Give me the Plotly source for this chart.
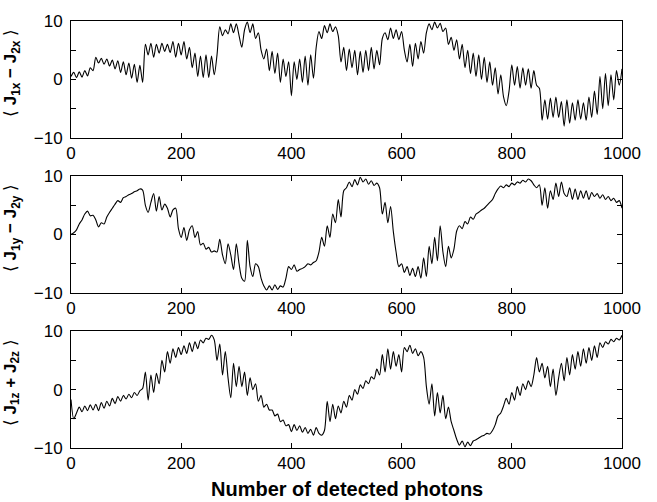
import plotly.graph_objects as go

photons = list(range(0, 1001, 5))

jx_diff = [
    0.5, 1.2, 0.3, 1.3, 0.4, 1.5, 0.6, 2.0, 1.5, 3.8, 2.8, 3.6, 2.6, 3.5, 2.3, 3.3, 1.8, 3.2, 1.2, 3.0,
    0.8, 2.8, 0.2, 2.6, -0.5, 2.4, -0.5, 6.0, 4.2, 6.2, 3.8, 6.0, 4.5, 6.2, 4.8, 6.0, 4.6, 6.5, 3.8, 6.2,
    4.2, 6.5, 3.5, 5.5, 2.0, 4.5, 0.5, 4.0, 0.3, 4.2, 0.3, 4.0, 0.8, 4.2, 9.0, 7.5, 8.5, 7.8, 9.5, 8.0,
    9.5, 7.5, 5.5, 8.5, 9.8, 8.0, 9.5, 7.0, 8.0, 5.0, 3.5, 5.2, 1.5, 4.8, 1.0, 4.5, -0.5, 3.5, 0.5, 3.0,
    -2.8, 3.0, 0.0, 3.5, -0.5, 4.0, -1.0, 4.2, 0.2, 5.5, 8.2, 7.0, 9.2, 8.0, 9.5, 8.2, 9.0, 7.5, 3.0, 5.5,
    1.5, 5.2, 2.0, 5.0, 0.8, 4.8, 1.2, 5.0, 1.5, 5.5, 1.8, 5.0, 2.5, 7.0, 8.0, 6.8, 8.8, 7.0, 8.5, 6.8,
    8.2, 5.0, 3.0, 6.0, 2.2, 6.2, 3.5, 6.5, 4.5, 8.0, 9.5, 8.5, 9.8, 8.8, 9.6, 8.2, 8.8, 6.0, 7.2, 5.0,
    6.8, 3.5, 6.0, 2.0, 5.0, 1.0, 4.5, 0.5, 4.2, 0.0, 3.8, -0.5, 3.0, -1.0, 2.0, -2.5, 0.8, -3.0, -4.5, -2.0,
    2.5, -1.0, 2.2, -1.5, 2.0, -1.0, 1.8, -1.5, 1.5, -1.0, -1.5, -7.0, -3.5, -6.8, -3.2, -6.5, -3.0, -6.5, -3.8, -8.0,
    -3.5, -7.5, -4.0, -7.0, -3.5, -6.8, -4.0, -7.0, -3.0, -6.5, -2.0, -6.0, 0.5, -5.0, 1.0, -4.5, 0.8, -3.5, 1.5, -1.0,
    1.8,
]

jy_diff = [
    0.0, 0.3, 0.8, 1.8, 2.5, 3.5, 4.0, 3.2, 3.3, 2.5, 1.3, 2.0, 1.8, 3.0, 3.8, 4.5, 5.2, 5.8, 5.5, 6.3,
    6.5, 6.8, 7.0, 7.3, 7.5, 7.8, 7.6, 5.0, 3.8, 5.5, 7.0, 4.0, 6.5, 4.2, 5.2, 4.5, 3.0, 4.2, 4.5, 1.0,
    -0.5, 1.2, -1.0, 0.8, 1.5, -0.5, 0.5, -1.8, -1.5, -2.5, -2.2, -3.0, -2.8, -3.0, -0.8, -3.5, -5.0, -1.6, -3.5, -6.0,
    -1.6, -5.0, -7.5, -8.0, -1.0, -5.5, -7.2, -5.0, -5.5, -7.5, -8.8, -9.5, -8.8, -9.5, -8.6, -9.4, -8.8, -9.0, -7.5, -5.5,
    -6.0, -5.2, -6.3, -6.0, -5.8, -5.5, -5.0, -5.2, -4.8, -4.5, -3.0, -0.5, -2.0, 1.5, -0.5, 3.5, 2.0, 6.0, 3.0, 7.5,
    8.0, 9.0, 8.2, 9.4, 8.5, 9.8, 9.0, 9.5, 8.6, 9.2, 8.4, 8.8, 8.0, 3.5, 5.5, 2.0, 4.8, 0.5, -3.0, -5.5,
    -5.0, -6.5, -5.5, -7.0, -5.8, -7.2, -5.5, -7.5, -4.0, -7.2, -2.0, -5.0, -0.5, -4.5, 1.5, -3.0, -5.5, -2.0, -4.0, -2.5,
    0.6, 1.5, 1.0, 2.2, 1.8, 3.0, 2.6, 3.5, 3.8, 4.2, 4.5, 5.0, 5.5, 6.0, 7.0, 7.8, 8.3, 8.0, 8.5, 8.2,
    8.8, 8.5, 9.0, 8.8, 9.3, 9.0, 9.5, 9.2, 8.5, 8.0, 8.5, 5.0, 8.0, 4.5, 7.5, 6.0, 8.8, 6.5, 9.0, 7.0,
    6.5, 8.0, 6.0, 7.8, 6.0, 7.5, 6.2, 7.5, 6.0, 7.2, 6.5, 7.0, 6.2, 6.8, 6.0, 6.5, 5.8, 6.2, 5.5, 5.8,
    4.5,
]

jz_sum = [
    -1.7, -5.0, -4.0, -3.0, -3.8, -2.8, -3.6, -2.6, -3.5, -2.5, -3.6, -2.2, -3.2, -2.0, -2.8, -1.5, -2.4, -1.2, -2.0, -1.0,
    -1.6, -0.8, -1.4, -0.5, -1.0, -0.2, 0.2, 3.0, -1.8, 2.5, -0.5, 2.8, 1.0, 5.0, 3.0, 6.5, 4.5, 7.0, 5.5, 7.2,
    6.0, 7.5, 6.2, 8.0, 6.5, 8.2, 7.0, 8.5, 8.0, 8.8, 8.6, 9.3, 8.5, 5.0, 7.8, 2.5, 6.5, 2.0, -1.4, 4.5,
    0.5, 4.0, 0.5, 3.0, -1.0, 2.0, 0.0, 1.0, -2.0, -1.0, -3.0, -2.5, -3.5, -3.5, -4.5, -4.2, -5.5, -5.2, -6.2, -6.0,
    -7.2, -6.0, -7.0, -6.2, -7.3, -6.5, -7.5, -6.8, -7.8, -6.5, -7.5, -7.8, -7.0, -2.0, -5.5, -2.5, -5.0, -2.8, -4.0, -2.0,
    -3.0, -1.0, -1.8, 0.0, -0.8, 0.8, 0.2, 1.5, 1.0, 2.2, 1.8, 3.5, 2.5, 6.0, 3.0, 7.0, 3.5, 6.5, 4.0, 6.0,
    3.0, 7.2, 6.5, 7.6, 6.2, 7.0, 5.8, 6.5, 5.5, 0.5, -2.5, 1.0, -4.5, -0.5, -4.0, -1.0, -5.0, -3.0, -5.5, -7.0,
    -8.5, -9.5, -8.8, -9.8, -9.0, -9.6, -8.8, -8.6, -8.3, -8.0, -7.8, -7.5, -7.6, -7.0, -6.0, -4.5, -4.0, -2.8, -1.5, -2.5,
    -0.5, -1.8, 0.5, -1.0, 1.0, 0.0, 1.5, 0.5, 2.5, 5.5, 3.0, 4.5, 2.0, 4.0, 0.5, 3.5, -1.0, 2.0, 4.5, 1.5,
    5.5, 2.5, 6.0, 3.5, 6.5, 4.0, 7.0, 4.5, 7.2, 5.0, 7.5, 5.5, 8.0, 7.2, 8.2, 7.8, 8.6, 8.2, 8.8, 8.5,
    9.3,
]

x_ticks = [0, 200, 400, 600, 800, 1000]
y_ticks = [-10, -5, 0, 5, 10]
y_ticktext = ["\u221210", " ", "0", " ", "10"]
x_title = "Number of detected photons"
y_titles = [
    "\u27e8 <b>J<sub>1x</sub> \u2212 J<sub>2x</sub></b> \u27e9",
    "\u27e8 <b>J<sub>1y</sub> \u2212 J<sub>2y</sub></b> \u27e9",
    "\u27e8 <b>J<sub>1z</sub> + J<sub>2z</sub></b> \u27e9",
]

series = [jx_diff, jy_diff, jz_sum]
domains = [[0.7264, 1.0], [0.3632, 0.6368], [0.0, 0.2736]]

FONT = "Liberation Sans, Arial, sans-serif"
fig = go.Figure()
layout = dict(
    width=657, height=502,
    margin=dict(l=71, r=35, t=13, b=54),
    paper_bgcolor="white", plot_bgcolor="white",
    showlegend=False,
    font=dict(family=FONT, size=17, color="black"),
)
annotations = []
for i, (vals, dom) in enumerate(zip(series, domains)):
    sfx = "" if i == 0 else str(i + 1)
    fig.add_trace(go.Scatter(
        x=photons, y=vals, mode="lines",
        line=dict(color="black", width=1.1, shape="spline", smoothing=0.8),
        xaxis="x" + sfx, yaxis="y" + sfx,
    ))
    layout["xaxis" + sfx] = dict(
        domain=[0, 1], anchor="y" + sfx, range=[0, 1000],
        tickmode="array", tickvals=x_ticks, ticks="inside", ticklen=5,
        tickcolor="black",
        showline=True, linecolor="black", linewidth=1, mirror="ticks",
        showgrid=False, zeroline=False,
        tickfont=dict(family=FONT, size=17, color="black"),
    )
    layout["yaxis" + sfx] = dict(
        domain=dom, anchor="x" + sfx, range=[-10, 10],
        tickmode="array", tickvals=y_ticks, ticktext=y_ticktext,
        ticks="inside", ticklen=5, tickcolor="black",
        showline=True, linecolor="black", linewidth=1, mirror="ticks",
        showgrid=False, zeroline=False,
        ticklabelstandoff=4,
        tickfont=dict(family=FONT, size=17, color="black"),
    )
    annotations.append(dict(
        text=y_titles[i], xref="paper", yref="paper",
        x=-0.107, y=(dom[0] + dom[1]) / 2 + 0.015,
        xanchor="center", yanchor="middle", textangle=-90,
        showarrow=False, font=dict(family=FONT, size=17, color="black"),
    ))
annotations.append(dict(
    text="<b>" + x_title + "</b>", xref="paper", yref="paper",
    x=0.5, y=-0.065, xanchor="center", yanchor="top", showarrow=False,
    font=dict(family=FONT, size=20, color="black"),
))
layout["annotations"] = annotations
fig.update_layout(**layout)
fig.write_html("out.html")
